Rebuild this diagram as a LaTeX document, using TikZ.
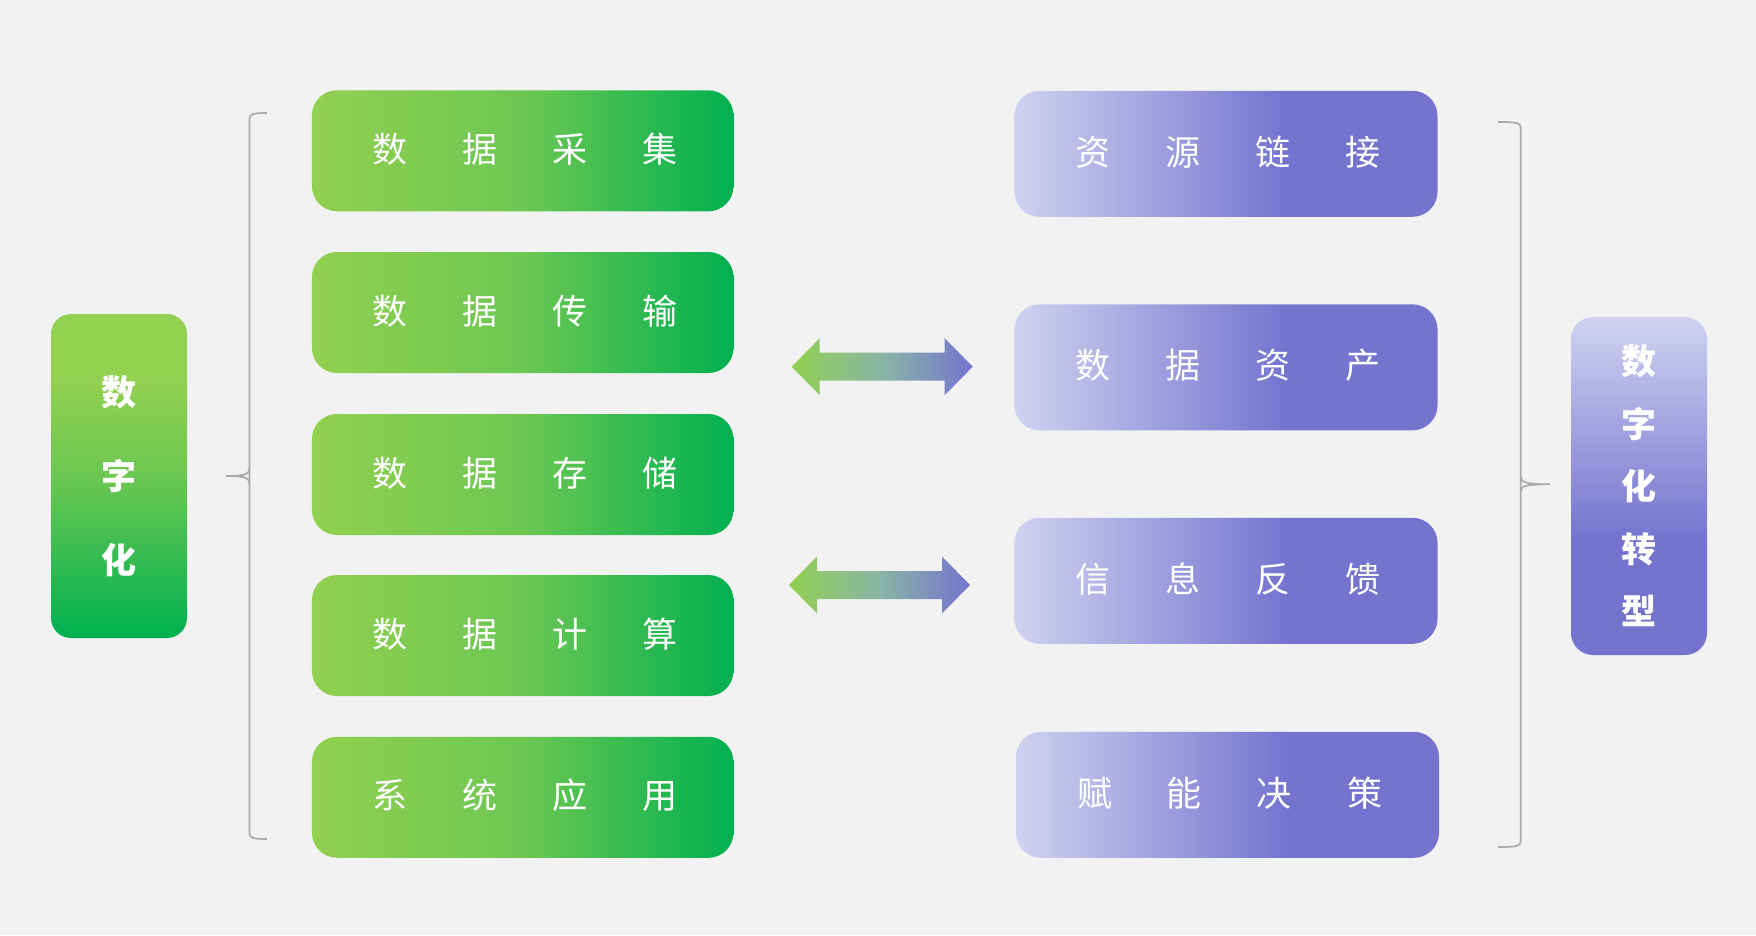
\documentclass[tikz,border=0pt]{standalone}
\usepackage{fontspec}
\newfontfamily\cjk{Noto Sans CJK SC}

\definecolor{bg}{RGB}{242,242,242}
\definecolor{gl}{RGB}{146,208,80}
\definecolor{gm}{RGB}{108,199,82}
\definecolor{gd}{RGB}{0,176,80}
\definecolor{pl}{RGB}{208,210,240}
\definecolor{pd}{RGB}{116,116,207}
\definecolor{am}{RGB}{137,181,166}
\definecolor{bracec}{RGB}{171,171,171}

\pgfdeclarehorizontalshading{greenh}{100bp}{color(0bp)=(gl); color(25bp)=(gl); color(50bp)=(gm); color(75bp)=(gd); color(100bp)=(gd)}
\pgfdeclarehorizontalshading{purpleh}{100bp}{color(0bp)=(pl); color(25bp)=(pl); color(57bp)=(pd); color(75bp)=(pd); color(100bp)=(pd)}
\pgfdeclarehorizontalshading{arrowh}{100bp}{color(0bp)=(gl); color(25bp)=(gl); color(50bp)=(am); color(75bp)=(pd); color(100bp)=(pd)}
\pgfdeclareverticalshading{greenv}{100bp}{color(0bp)=(gd); color(25bp)=(gd); color(50bp)=(gm); color(65bp)=(gl); color(75bp)=(gl); color(100bp)=(gl)}
\pgfdeclareverticalshading{purplev}{100bp}{color(0bp)=(pd); color(25bp)=(pd); color(42bp)=(pd); color(75bp)=(pl); color(100bp)=(pl)}

\newcommand{\hsp}{\hspace{55pt}}

\tikzset{
  greenbox/.style={shade, shading=greenh, rounded corners=25pt, minimum width=421.5pt,
    minimum height=121pt, text=white, text height=31pt, text depth=8pt,
    font=\cjk\fontsize{35}{42}\selectfont},
  purplebox/.style={shade, shading=purpleh, rounded corners=25pt, minimum width=423pt,
    minimum height=126pt, text=white, text height=31pt, text depth=8pt,
    font=\cjk\fontsize{35}{42}\selectfont},
  brace/.style={draw=bracec, line width=1.8pt},
  arrowshade/.style={shading=arrowh}
}

\begin{document}
\begin{tikzpicture}[x=1pt,y=-1pt]

      \useasboundingbox (0,0) rectangle (1756,935);
      \fill[bg] (0,0) rectangle (1756,935);

      % left and right columns
      \node[shade, shading=greenv, rounded corners=20pt, minimum width=136pt, minimum height=324pt,
        text=white, align=center, font=\cjk\bfseries\fontsize{35}{84}\selectfont]
        (d) at (119,476) {数\\字\\化};
      \node[shade, shading=purplev, rounded corners=22pt, minimum width=136pt, minimum height=338pt,
        text=white, align=center, font=\cjk\bfseries\fontsize{35}{62.5}\selectfont]
        (t) at (1639,486) {数\\字\\化\\转\\型};

      \begin{scope}[every node/.style={greenbox}]
        \node (g1) at (522.7,150.8) {\hspace{4pt}数\hsp 据\hsp 采\hsp 集};
        \node (g2) at (522.7,312.5) {\hspace{4pt}数\hsp 据\hsp 传\hsp 输};
        \node (g3) at (522.7,474.5) {\hspace{4pt}数\hsp 据\hsp 存\hsp 储};
        \node (g4) at (522.7,635.5) {\hspace{4pt}数\hsp 据\hsp 计\hsp 算};
        \node (g5) at (522.7,797.3) {\hspace{4pt}系\hsp 统\hsp 应\hsp 用};
      \end{scope}

      \begin{scope}[every node/.style={purplebox}]
        \node (p1) at (1226,153.8) {\hspace{4pt}资\hsp 源\hsp 链\hsp 接};
        \node (p2) at (1226,367.3) {\hspace{4pt}数\hsp 据\hsp 资\hsp 产};
        \node (p3) at (1226,580.8) {\hspace{4pt}信\hsp 息\hsp 反\hsp 馈};
        \node (p4) at (1227.5,794.8) {\hspace{4pt}赋\hsp 能\hsp 决\hsp 策};
      \end{scope}

      % braces
      \draw[brace] (267,113) .. controls (253,113) and (249.5,114) .. (249.5,119)
        -- (249.5,833) .. controls (249.5,838) and (253,839) .. (267,839);
      \draw[brace] (249.5,468) .. controls (249.5,474) and (246,476) .. (226,476)
        .. controls (246,476) and (249.5,478) .. (249.5,484);
      \draw[brace] (1498,122) .. controls (1517,122) and (1520.7,123) .. (1520.7,128)
        -- (1520.7,841) .. controls (1520.7,846) and (1517,847) .. (1498,847);
      \draw[brace] (1520.7,476) .. controls (1520.7,482) and (1524,484.3) .. (1550,484.3)
        .. controls (1524,484.3) and (1520.7,486) .. (1520.7,492);

      % double arrows
      \coordinate (a1) at (791.7,366.7);
      \coordinate (a2) at (789,585);
      \shade[arrowshade] (a1) -- ++(28,-28.5) -- ++(0,14.5) -- ++(125,0) -- ++(0,-14.5)
        -- ++(28,28.5) -- ++(-28,28.5) -- ++(0,-14.5) -- ++(-125,0) -- ++(0,14.5) -- cycle;
      \shade[arrowshade] (a2) -- ++(28,-28.5) -- ++(0,14.5) -- ++(125,0) -- ++(0,-14.5)
        -- ++(28,28.5) -- ++(-28,28.5) -- ++(0,-14.5) -- ++(-125,0) -- ++(0,14.5) -- cycle;

    \end{tikzpicture}
\end{document}
